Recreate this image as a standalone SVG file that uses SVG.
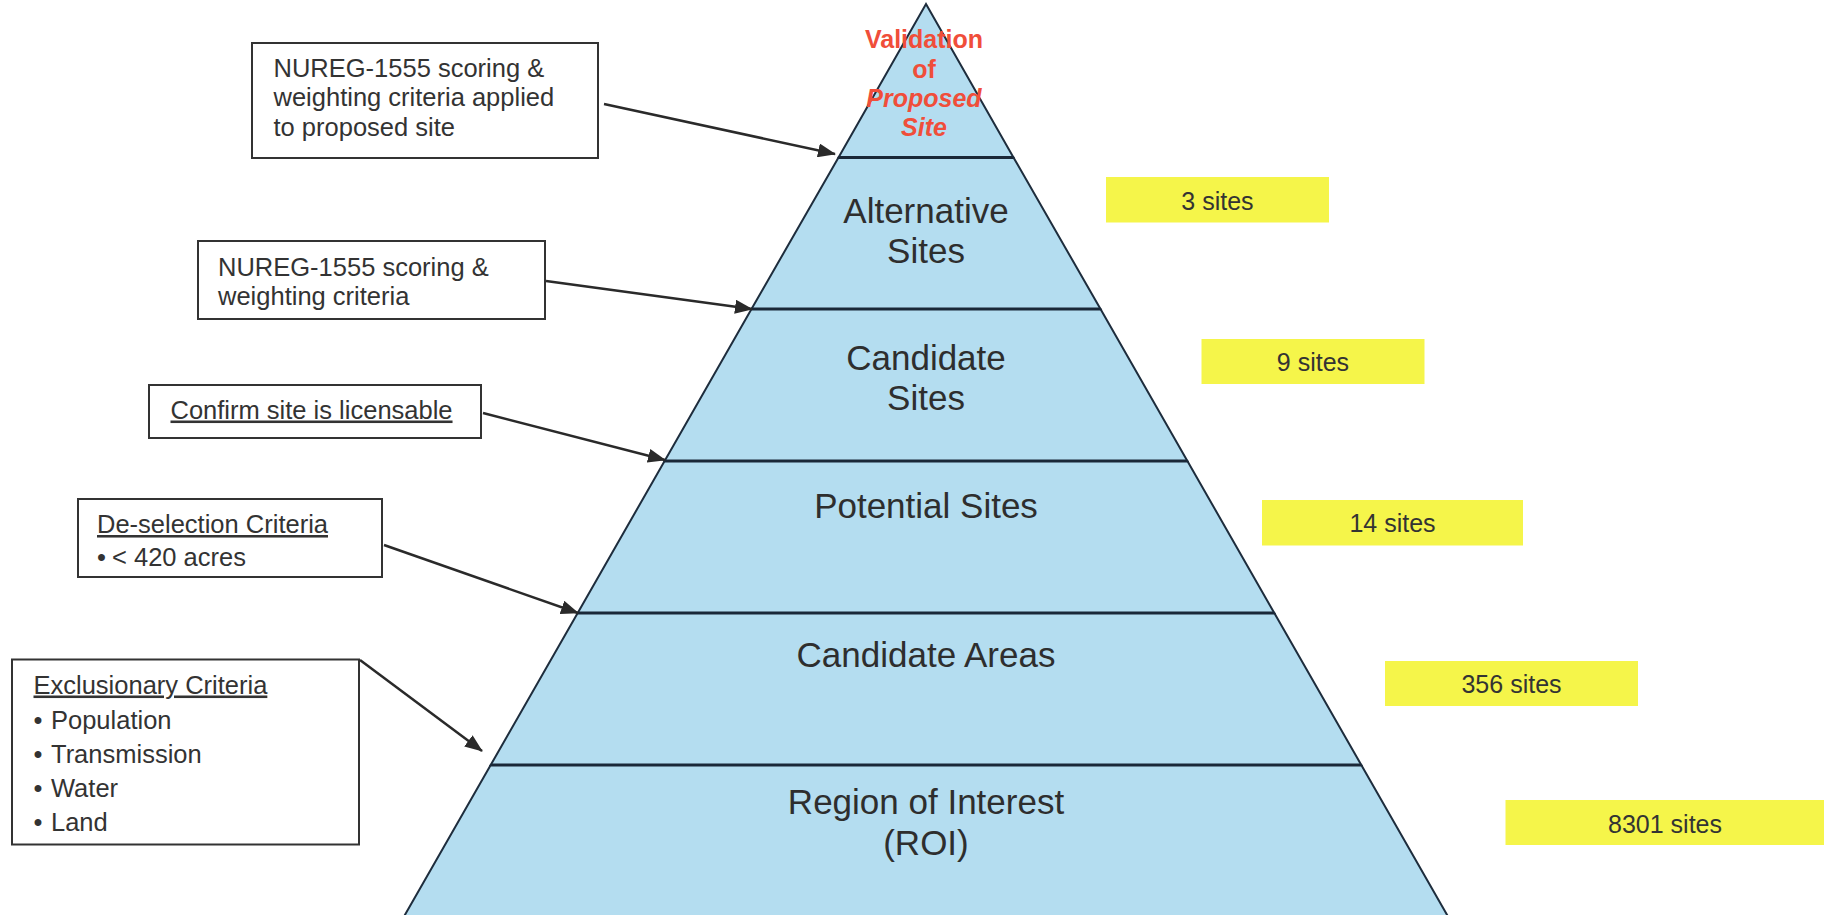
<svg xmlns="http://www.w3.org/2000/svg" width="1824" height="915" viewBox="0 0 1824 915">
<defs>
<style>
.band{fill:#b4ddf0;stroke:#1e2d3d;stroke-width:2;stroke-linejoin:miter}
.div{stroke:#1a2838;stroke-width:3}
.pt{font-family:"Liberation Sans",Arial,sans-serif;font-size:35px;fill:#2e2e2e;text-anchor:middle}
.vt{font-family:"Liberation Sans",Arial,sans-serif;font-size:25px;font-weight:bold;fill:#f04e3a;text-anchor:middle}
.box{fill:#ffffff;stroke:#333333;stroke-width:2}
.bt{font-family:"Liberation Sans",Arial,sans-serif;font-size:25.5px;fill:#333333}
.ybox{fill:#f5f54a}
.yt{font-family:"Liberation Sans",Arial,sans-serif;font-size:25px;fill:#333333;text-anchor:middle}
.conn{stroke:#2a2a2a;stroke-width:2.5;fill:none;marker-end:url(#ah)}
</style>
<marker id="ah" markerUnits="userSpaceOnUse" markerWidth="18" markerHeight="14" viewBox="0 0 18 14" refX="17" refY="7" orient="auto">
<path d="M0,0 L18,7 L0,14 z" fill="#2a2a2a"/>
</marker>
</defs>
<rect width="1824" height="915" fill="#ffffff"/>

<g id="level-validation">
<polygon class="band" points="926,4 1013.5,157.5 838.5,157.5"/>
<text class="vt" x="924" y="48">Validation</text>
<text class="vt" x="924" y="77.5">of</text>
<text class="vt" x="924" y="107" font-style="italic">Proposed</text>
<text class="vt" x="924" y="136" font-style="italic">Site</text>
</g>

<g id="level-alternative">
<polygon class="band" points="838.5,157.5 1013.5,157.5 1100.5,309 751.5,309"/>
<line class="div" x1="838.5" y1="157.5" x2="1013.5" y2="157.5"/>
<text class="pt" x="926" y="223">Alternative</text>
<text class="pt" x="926" y="263">Sites</text>
</g>

<g id="level-candidate-sites">
<polygon class="band" points="751.5,309 1100.5,309 1187.4,461 664.6,461"/>
<line class="div" x1="751.5" y1="309" x2="1100.5" y2="309"/>
<text class="pt" x="926" y="370">Candidate</text>
<text class="pt" x="926" y="410">Sites</text>
</g>

<g id="level-potential">
<polygon class="band" points="664.6,461 1187.4,461 1274.3,613 577.7,613"/>
<line class="div" x1="664.6" y1="461" x2="1187.4" y2="461"/>
<text class="pt" x="926" y="518">Potential Sites</text>
</g>

<g id="level-candidate-areas">
<polygon class="band" points="577.7,613 1274.3,613 1361.3,765 490.7,765"/>
<line class="div" x1="577.7" y1="613" x2="1274.3" y2="613"/>
<text class="pt" x="926" y="667">Candidate Areas</text>
</g>

<g id="level-roi">
<polygon class="band" points="490.7,765 1361.3,765 1450,920 402,920"/>
<line class="div" x1="490.7" y1="765" x2="1361.3" y2="765"/>
<text class="pt" x="926" y="814">Region of Interest</text>
<text class="pt" x="926" y="855">(ROI)</text>
</g>

<g id="note-proposed">
<rect class="box" x="252" y="43" width="346" height="115"/>
<text class="bt" x="273.5" y="76.5">NUREG-1555 scoring &amp;</text>
<text class="bt" x="273.5" y="106">weighting criteria applied</text>
<text class="bt" x="273.5" y="135.5">to proposed site</text>
</g>

<g id="note-alternative">
<rect class="box" x="198" y="241" width="347" height="78"/>
<text class="bt" x="218" y="275.5">NUREG-1555 scoring &amp;</text>
<text class="bt" x="218" y="304.5">weighting criteria</text>
</g>

<g id="note-candidate">
<rect class="box" x="149" y="385" width="332" height="53"/>
<text class="bt" x="170.5" y="418.5" text-decoration="underline">Confirm site is licensable</text>
</g>

<g id="note-deselection">
<rect class="box" x="78" y="499" width="304" height="78"/>
<text class="bt" x="97" y="533" text-decoration="underline">De-selection Criteria</text>
<text class="bt" y="566"><tspan x="97">•</tspan><tspan x="112">&lt; 420 acres</tspan></text>
</g>

<g id="note-exclusionary">
<rect class="box" x="12" y="659.5" width="347" height="185"/>
<text class="bt" x="33.5" y="693.5" text-decoration="underline">Exclusionary Criteria</text>
<text class="bt" y="728.5"><tspan x="33.5">•</tspan><tspan x="51">Population</tspan></text>
<text class="bt" y="762.5"><tspan x="33.5">•</tspan><tspan x="51">Transmission</tspan></text>
<text class="bt" y="797"><tspan x="33.5">•</tspan><tspan x="51">Water</tspan></text>
<text class="bt" y="831"><tspan x="33.5">•</tspan><tspan x="51">Land</tspan></text>
</g>

<g id="count-3">
<rect class="ybox" x="1106" y="177" width="223" height="45.5"/>
<text class="yt" x="1217.5" y="209.5">3 sites</text>
</g>
<g id="count-9">
<rect class="ybox" x="1201.5" y="339" width="223" height="45"/>
<text class="yt" x="1313" y="371">9 sites</text>
</g>
<g id="count-14">
<rect class="ybox" x="1262" y="500" width="261" height="45.5"/>
<text class="yt" x="1392.5" y="531.5">14 sites</text>
</g>
<g id="count-356">
<rect class="ybox" x="1385" y="661" width="253" height="45"/>
<text class="yt" x="1511.5" y="693">356 sites</text>
</g>
<g id="count-8301">
<rect class="ybox" x="1505.5" y="800" width="318.5" height="45"/>
<text class="yt" x="1665" y="832.5">8301 sites</text>
</g>

<g id="connectors">
<line class="conn" x1="604" y1="104" x2="835" y2="154"/>
<line class="conn" x1="546" y1="281" x2="752" y2="309"/>
<line class="conn" x1="483" y1="413" x2="665" y2="460"/>
<line class="conn" x1="384" y1="545" x2="578" y2="613"/>
<line class="conn" x1="360" y1="660" x2="482" y2="751"/>
</g>
</svg>
